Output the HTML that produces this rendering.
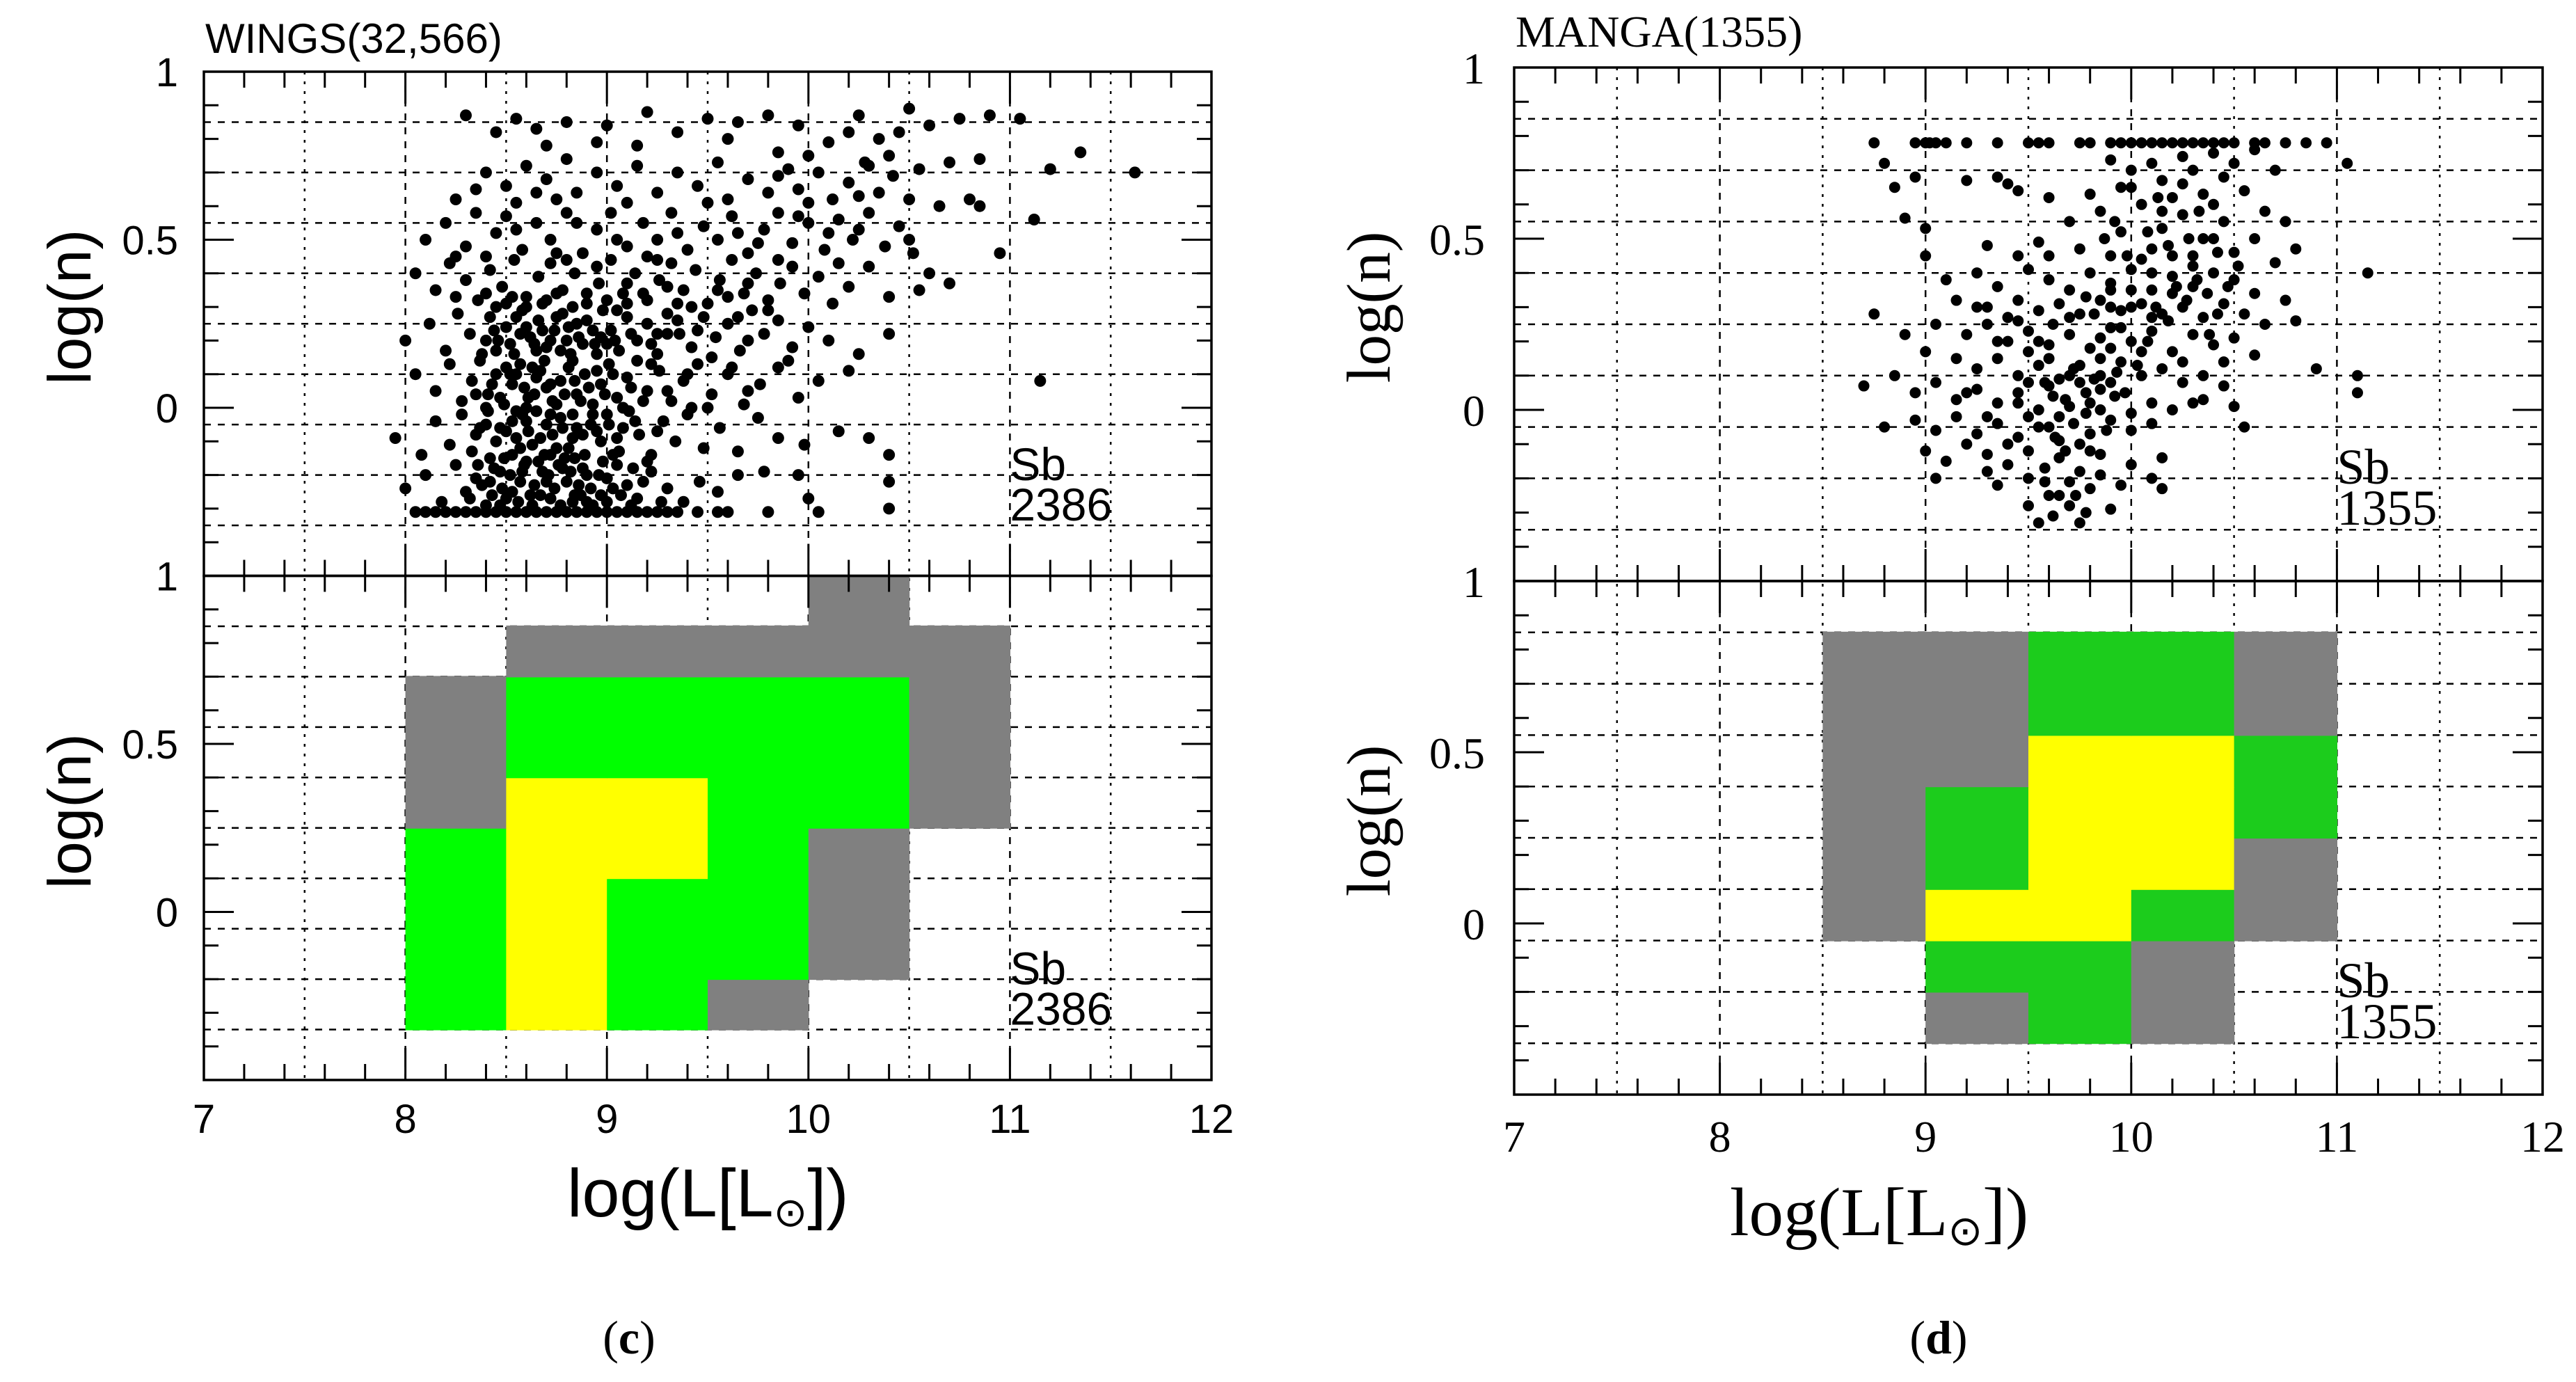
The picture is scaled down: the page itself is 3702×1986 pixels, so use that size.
<!DOCTYPE html>
<html><head><meta charset="utf-8"><title>log(n) vs log(L): WINGS and MANGA, Sb galaxies</title>
<style>
html,body{margin:0;padding:0;background:#fff;}
svg{display:block;}
</style></head>
<body>
<svg id="fig" width="3702" height="1986" viewBox="0 0 3702 1986" xmlns="http://www.w3.org/2000/svg">
<rect x="0" y="0" width="3702" height="1986" fill="#fff"/>
</svg>
<script>
// ---- data ----
const xBinEdges = [8, 8.5, 9, 9.5, 10, 10.5, 11];
const yBinEdges = [-0.35, -0.2, -0.05, 0.1, 0.25, 0.4, 0.55, 0.7, 0.85, 1.0];
const xTickLabels = ["7", "8", "9", "10", "11", "12"];
const yTickLabels = ["0", "0.5", "1"];
// heat levels per row (bottom row first): 0 empty, 1 gray, 2 green, 3 yellow
const wingsGrid = [
 [2,3,2,1,0,0],
 [2,3,2,2,1,0],
 [2,3,2,2,1,0],
 [2,3,3,2,1,0],
 [1,3,3,2,2,1],
 [1,2,2,2,2,1],
 [1,2,2,2,2,1],
 [0,1,1,1,1,1],
 [0,0,0,0,1,0]
];
const mangaGrid = [
 [0,0,1,2,1,0],
 [0,0,2,2,1,0],
 [0,1,3,3,2,1],
 [0,1,2,3,3,1],
 [0,1,2,3,3,2],
 [0,1,1,3,3,2],
 [0,1,1,2,2,1],
 [0,1,1,2,2,1],
 [0,0,0,0,0,0]
];
const wingsPts = [
[8.3,.87],[8.45,.82],[8.55,.86],[8.65,.83],[8.8,.85],[9.0,.84],[9.2,.88],[9.35,.82],[9.5,.86],[9.65,.85],[9.8,.87],[9.95,.84],[10.25,.87],[10.35,.8],[10.5,.89],[10.6,.84],[10.75,.86],[10.9,.87],[11.05,.86],[11.35,.76],[10.45,.82],[9.15,.78],[8.95,.79],[8.7,.78],[9.6,.8],[10.1,.79],[10.2,.82],[10.7,.73],[10.85,.74],[11.2,.71],[11.62,.7],[9.85,.76],[10.0,.75],[10.4,.75],[10.3,.72],
[8.4,.7],[8.5,.66],[8.6,.72],[8.7,.68],[8.8,.74],[8.85,.64],[8.95,.7],[9.05,.66],[9.15,.72],[9.25,.64],[9.35,.7],[9.45,.66],[9.55,.73],[9.6,.62],[9.7,.68],[9.8,.64],[9.9,.71],[9.95,.65],[10.05,.7],[10.12,.62],[10.2,.67],[10.28,.73],[10.35,.64],[10.42,.69],[10.5,.62],[10.55,.71],[10.65,.6],[10.8,.62],[10.85,.6],[8.25,.62],[8.35,.65],[8.55,.61],[8.75,.62],[9.1,.61],[9.5,.61],[9.85,.69],[10.0,.61],[10.25,.63],[8.65,.64],
[8.1,.5],[8.2,.55],[8.3,.48],[8.35,.58],[8.45,.52],[8.5,.57],[8.58,.47],[8.65,.55],[8.72,.5],[8.8,.58],[8.88,.46],[8.95,.53],[9.02,.58],[9.1,.48],[9.18,.55],[9.25,.5],[9.32,.58],[9.4,.47],[9.48,.54],[9.55,.5],[9.62,.57],[9.7,.46],[9.78,.53],[9.85,.58],[9.92,.49],[10.0,.55],[10.08,.47],[10.15,.56],[10.22,.5],[10.3,.58],[10.38,.48],[10.45,.54],[10.52,.46],[10.6,.4],[10.7,.37],[10.95,.46],[11.12,.56],[8.25,.45],[8.55,.53],[8.75,.46],[9.05,.5],[9.35,.52],[9.65,.52],[9.95,.57],[10.25,.53],[10.5,.5],[8.4,.45],[8.85,.55],[9.2,.45],[9.75,.49],[10.1,.52],
[8.05,.4],[8.15,.35],[8.22,.43],[8.3,.38],[8.36,.32],[8.42,.41],[8.48,.36],[8.54,.44],[8.6,.33],[8.66,.39],[8.72,.43],[8.78,.35],[8.84,.4],[8.9,.31],[8.96,.37],[9.02,.44],[9.08,.34],[9.14,.4],[9.2,.32],[9.26,.38],[9.32,.43],[9.38,.35],[9.44,.41],[9.5,.31],[9.56,.38],[9.62,.44],[9.68,.34],[9.74,.4],[9.8,.32],[9.86,.37],[9.92,.42],[9.98,.34],[10.05,.39],[10.12,.31],[10.2,.36],[10.3,.42],[10.4,.33],[10.55,.35],[8.25,.33],[8.5,.31],[8.7,.32],[8.95,.42],[9.1,.37],[9.35,.31],[9.6,.33],[9.85,.44],[10.15,.43],[8.4,.34],[8.8,.44],[9.25,.44],[9.7,.37],
[8.0,.2],[8.12,.25],[8.2,.17],[8.26,.28],[8.32,.22],[8.38,.16],[8.42,.27],[8.46,.2],[8.5,.24],[8.54,.16],[8.58,.29],[8.62,.21],[8.66,.26],[8.7,.18],[8.74,.23],[8.78,.28],[8.82,.16],[8.86,.21],[8.9,.26],[8.94,.19],[8.98,.29],[9.02,.23],[9.06,.17],[9.1,.27],[9.15,.2],[9.2,.25],[9.25,.16],[9.3,.28],[9.36,.22],[9.42,.18],[9.48,.27],[9.54,.21],[9.6,.25],[9.66,.17],[9.72,.29],[9.78,.22],[9.85,.26],[9.92,.18],[10.0,.24],[10.1,.2],[10.25,.16],[10.4,.22],[8.55,.27],[8.65,.17],[8.75,.27],[8.85,.25],[8.95,.16],[9.05,.29],[9.25,.22],[9.45,.23],[9.7,.2],[8.6,.24],[8.8,.2],[8.45,.17],[9.0,.19],[9.35,.26],
[8.05,.1],[8.15,.05],[8.22,.13],[8.28,.02],[8.33,.08],[8.37,.14],[8.41,.04],[8.45,.1],[8.49,.01],[8.53,.07],[8.57,.13],[8.61,.03],[8.65,.09],[8.69,.14],[8.73,.02],[8.77,.08],[8.81,.12],[8.85,.04],[8.89,.1],[8.93,.01],[8.97,.07],[9.01,.13],[9.05,.03],[9.1,.09],[9.15,.14],[9.2,.05],[9.26,.11],[9.32,.02],[9.38,.08],[9.45,.13],[9.52,.04],[9.6,.1],[9.68,.01],[9.76,.07],[9.85,.12],[9.95,.03],[10.05,.08],[10.2,.11],[9.9,.14],[8.55,.1],[8.7,.06],[8.83,.14],[8.6,.0],[8.95,.11],[9.08,.0],[8.5,.12],[8.75,.01],[9.22,.13],[9.42,.0],[8.4,.0],[8.63,.12],[11.15,.08],
[7.95,-.09],[8.08,-.14],[8.15,-.04],[8.22,-.11],[8.28,-.02],[8.33,-.13],[8.37,-.06],[8.41,-.01],[8.45,-.1],[8.49,-.15],[8.53,-.04],[8.57,-.12],[8.61,-.07],[8.65,-.01],[8.69,-.14],[8.73,-.08],[8.77,-.03],[8.81,-.12],[8.85,-.06],[8.89,-.14],[8.93,-.02],[8.97,-.1],[9.01,-.05],[9.06,-.13],[9.11,-.01],[9.16,-.08],[9.22,-.14],[9.28,-.04],[9.34,-.1],[9.4,-.02],[9.48,-.12],[9.56,-.06],[9.65,-.13],[9.75,-.03],[9.85,-.09],[9.98,-.11],[10.15,-.07],[10.3,-.09],[8.55,-.09],[8.7,-.05],[8.83,-.09],[8.63,-.11],[8.47,-.06],[8.79,-.15],[8.95,-.07],[9.05,-.09],[8.58,-.02],[8.75,-.12],[10.4,-.14],
[8.0,-.24],[8.1,-.2],[8.18,-.28],[8.25,-.17],[8.3,-.25],[8.35,-.21],[8.4,-.29],[8.44,-.18],[8.48,-.24],[8.52,-.2],[8.56,-.28],[8.6,-.16],[8.64,-.23],[8.68,-.19],[8.72,-.27],[8.76,-.17],[8.8,-.22],[8.84,-.26],[8.88,-.18],[8.92,-.24],[8.96,-.2],[9.0,-.28],[9.05,-.17],[9.1,-.23],[9.15,-.27],[9.22,-.19],[9.3,-.24],[9.38,-.28],[9.46,-.22],[9.55,-.25],[9.65,-.2],[9.78,-.19],[9.95,-.2],[10.0,-.27],[10.4,-.22],[8.5,-.27],[8.62,-.26],[8.7,-.22],[8.82,-.19],[8.9,-.28],[9.0,-.21],[8.42,-.22],[8.58,-.19],[8.74,-.24],[8.86,-.23],[9.07,-.26],
[8.05,-.31],[8.1,-.31],[8.15,-.31],[8.2,-.31],[8.25,-.31],[8.3,-.31],[8.35,-.31],[8.4,-.31],[8.45,-.31],[8.5,-.31],[8.55,-.31],[8.6,-.31],[8.65,-.31],[8.7,-.31],[8.75,-.31],[8.8,-.31],[8.85,-.31],[8.9,-.31],[8.95,-.31],[9.0,-.31],[9.05,-.31],[9.1,-.31],[9.15,-.31],[9.2,-.31],[9.25,-.31],[9.3,-.31],[9.35,-.31],[9.45,-.31],[9.55,-.31],[9.6,-.31],[9.8,-.31],[10.05,-.31],[10.4,-.3],
[8.32,-.27],[8.38,-.23],[8.43,-.26],[8.47,-.29],[8.53,-.25],[8.57,-.22],[8.63,-.29],[8.67,-.26],[8.71,-.2],[8.77,-.29],[8.83,-.28],[8.87,-.26],[8.93,-.29],[8.97,-.26],[9.03,-.24],[9.12,-.29],[9.18,-.22],[9.27,-.28],
[8.36,-.17],[8.42,-.15],[8.47,-.19],[8.53,-.14],[8.59,-.17],[8.66,-.16],[8.72,-.14],[8.78,-.18],[8.84,-.15],[8.9,-.2],[8.98,-.16],[9.03,-.14],[9.13,-.18],[9.2,-.16],
[8.35,-.08],[8.4,-.05],[8.5,-.07],[8.55,-.01],[8.6,-.04],[8.67,-.09],[8.72,-.02],[8.78,-.06],[8.83,-.02],[8.88,-.08],[8.92,-.05],[9.0,-.02],[9.08,-.06],[9.14,-.04],[9.25,-.07],
[8.35,.04],[8.43,.07],[8.47,.03],[8.52,.1],[8.59,.06],[8.64,.04],[8.67,.11],[8.72,.07],[8.79,.04],[8.84,.08],[8.87,.02],[8.91,.06],[8.99,.04],[9.03,.1],[9.12,.06],[9.18,.02],[9.3,.05],
[8.4,.2],[8.44,.23],[8.52,.19],[8.57,.22],[8.64,.19],[8.68,.23],[8.72,.2],[8.77,.17],[8.81,.24],[8.88,.19],[8.93,.23],[8.97,.21],[9.04,.2],[9.12,.22],[9.22,.19],[9.3,.22],
[8.45,.3],[8.53,.33],[8.6,.3],[8.68,.31],[8.75,.34],[8.83,.3],[8.9,.34],[9.0,.32],[9.1,.31],[9.18,.34],[9.3,.36],[9.42,.3],[9.55,.35],[9.65,.27],[9.8,.29],[9.52,.15],[9.62,.12],[9.4,.1],[9.7,.05],[9.5,0.0]
];
const mangaPts = [
[8.75,.78],[8.95,.78],[9.0,.78],[9.02,.78],[9.05,.78],[9.1,.78],[9.2,.78],[9.35,.78],[9.5,.78],[9.55,.78],[9.6,.78],[9.75,.78],[9.8,.78],[9.9,.78],[9.95,.78],[10.0,.78],[10.05,.78],[10.1,.78],[10.15,.78],[10.2,.78],[10.25,.78],[10.3,.78],[10.35,.78],[10.4,.78],[10.45,.78],[10.5,.78],[10.6,.78],[10.65,.78],[10.75,.78],[10.85,.78],[10.95,.78],
[8.8,.72],[9.35,.68],[10.1,.72],[10.25,.74],[10.4,.75],[10.6,.76],[10.7,.7],[11.05,.72],[8.85,.65],[8.95,.68],[9.2,.67],[9.4,.66],[9.45,.64],[9.9,.73],[10.0,.7],[10.15,.67],[10.3,.7],[10.45,.68],[10.5,.72],[9.8,.63],[9.95,.65],[10.2,.62],[10.35,.63],[10.55,.64],[9.6,.62],[8.9,.56],[9.0,.53],[9.85,.58],[10.05,.6],[10.25,.57],[10.45,.55],[10.65,.58],[10.75,.55],[9.7,.55],[9.95,.52],[10.15,.53],[10.4,.5],[10.6,.5],[10.8,.47],[9.55,.49],[9.3,.48],[9.45,.45],[9.75,.47],[9.9,.45],[10.1,.47],[10.3,.45],[10.5,.46],[10.7,.43],[11.15,.4],
[9.0,.45],[9.1,.38],[9.25,.4],[9.35,.36],[9.5,.41],[9.6,.38],[9.7,.35],[9.8,.4],[9.9,.37],[10.0,.41],[10.1,.35],[10.2,.39],[10.3,.36],[10.4,.4],[10.5,.38],[10.6,.34],[10.75,.32],[9.15,.32],[9.3,.3],[9.45,.32],[9.55,.29],[9.65,.31],[9.75,.28],[9.85,.32],[9.95,.29],[10.05,.31],[10.15,.28],[10.25,.3],[10.35,.27],[10.45,.31],[10.55,.28],[10.65,.25],[10.8,.26],
[8.75,.28],[8.9,.22],[9.05,.25],[9.2,.22],[9.3,.25],[9.4,.2],[9.5,.23],[9.6,.19],[9.7,.22],[9.8,.18],[9.9,.24],[10.0,.2],[10.1,.23],[10.2,.17],[10.3,.22],[10.4,.19],[10.5,.21],[10.6,.16],[10.9,.12],[9.0,.17],[9.15,.15],[9.25,.12],[9.35,.15],[9.45,.1],[9.55,.13],[9.65,.09],[9.75,.13],[9.85,.1],[9.95,.14],[10.05,.1],[10.15,.12],[10.25,.08],[10.35,.1],[10.45,.07],[11.1,.1],
[8.7,.07],[8.85,.1],[8.95,.05],[9.05,.08],[9.15,.03],[9.25,.06],[9.35,.02],[9.45,.05],[9.55,.0],[9.62,.04],[9.7,.01],[9.78,.05],[9.85,.0],[9.92,.04],[10.0,-.01],[10.1,.02],[10.2,.0],[10.35,.03],[10.5,.01],[11.1,.05],
[8.8,-.05],[8.95,-.03],[9.05,-.06],[9.15,-.02],[9.25,-.07],[9.35,-.04],[9.45,-.08],[9.55,-.05],[9.65,-.09],[9.72,-.04],[9.8,-.07],[9.9,-.03],[10.0,-.06],[10.1,-.04],[10.55,-.05],[9.0,-.12],[9.1,-.15],[9.2,-.1],[9.3,-.13],[9.4,-.16],[9.5,-.12],[9.58,-.17],[9.65,-.14],[9.75,-.18],[9.85,-.13],[10.0,-.16],[10.15,-.14],[9.05,-.2],[9.35,-.22],[9.5,-.2],[9.6,-.25],[9.7,-.21],[9.8,-.23],[9.95,-.22],[10.1,-.2],[10.15,-.23],[9.5,-.28],[9.62,-.31],[9.7,-.28],[9.78,-.3],[9.9,-.29],[9.55,-.33],[9.75,-.33],[9.65,-.25],[9.3,-.18],[9.85,-.19],
[9.7,.27],[9.85,.15],[9.6,.15],[9.75,.08],[9.5,.17],[10.0,.3],[10.2,.34],[10.3,.42],[10.1,.27],[9.9,.35],[9.8,.02],[9.65,-.02],[9.85,.06],[9.75,-.1],[9.6,.07],[10.05,.44],[10.4,.6],[10.0,.65],[10.25,.66],[9.85,.21],
[9.9,.3],[10.0,.35],[10.1,.4],[9.95,.24],[10.05,.17],[9.7,.1],[9.6,-.05],[9.8,-.12],[9.9,.08],[10.2,.45],[10.35,.5],[10.15,.58],
[9.45,.02],[9.5,-.02],[9.58,.08],[9.63,-.08],[9.68,.03],[9.72,.12],[9.78,-.01],[9.82,.09],[9.88,-.06],[9.93,.11],[9.97,.05],[10.03,.13],[9.55,.2],[9.62,.25],[9.9,.18],[10.08,.2],[10.12,.3],[10.18,.26],[10.22,.36],[10.27,.32],[10.32,.38],[10.37,.34],[10.42,.28],[10.47,.36],[10.52,.42],[10.28,.5],[10.18,.48],[10.08,.52],[10.13,.62],[10.33,.58],[10.42,.46],[10.38,.22],[9.98,.45],[9.92,.55],[9.87,.5],[9.78,.33],[9.6,.45],[9.4,.27],[9.25,.3],[9.2,.05],[9.3,-.02],[9.4,-.1],[9.5,.08],[9.45,.26],[9.35,.2],[10.25,.14],[10.3,.02],[10.45,.14],[9.68,-.12],[9.58,-.21],[9.73,-.25],[9.82,.28]
];

// ---- layout (not data) ----
const NS = "http://www.w3.org/2000/svg";
const svg = document.getElementById("fig");
function el(tag, attrs, parent) {
  const e = document.createElementNS(NS, tag);
  for (const k in attrs) e.setAttribute(k, attrs[k]);
  (parent || svg).appendChild(e);
  return e;
}
const panels = [
  { key: "wings", x0: 293, x1: 1741, top: 103, mid: 827.5, bot: 1552,
    font: '"Liberation Sans", sans-serif', tickFs: 58, titleFs: 60, axFs: 97,
    green: "#00ff00", grid: wingsGrid, pts: wingsPts, r: 8.5,
    title: "WINGS(32,566)", count: "2386", titleY: 76,
    ylabX: 100, yTickRight: 256, xTickY: 1628, xLabX: 815, xLabY: 1748, caption: "(c)", capX: 904 },
  { key: "manga", x0: 2176, x1: 3654, top: 97, mid: 835, bot: 1573,
    font: '"Liberation Serif", serif', tickFs: 64, titleFs: 64, axFs: 99,
    green: "#1ccc1c", grid: mangaGrid, pts: mangaPts, r: 8,
    title: "MANGA(1355)", count: "1355", titleY: 67,
    ylabX: 1968, yTickRight: 2134, xTickY: 1655, xLabX: 2486, xLabY: 1775, caption: "(d)", capX: 2786 }
];
const colors = p => ["none", "#808080", p.green, "#ffff00"];

panels.forEach(p => {
  const g = el("g", {});
  
  
  const xs = v => p.x0 + (v - 7) * (p.x1 - p.x0) / 5;
  const ysTop = v => p.top + (1 - v) * (p.mid - p.top) / 1.5;
  const ysBot = v => p.mid + (1 - v) * (p.bot - p.mid) / 1.5;
  const col = colors(p);

  // grid lines
  const gl = el("g", { stroke: "#000", "stroke-width": 2.5, fill: "none" }, g);
  
  
  for (let i = 1; i < 10; i++) {
    const x = xs(7 + i * 0.5);
    const dash = (i % 2 === 0) ? "10 10" : "4 10";
    const ln = el("line", { x1: x, x2: x, y1: p.top, y2: p.bot, "stroke-dasharray": dash }, gl);
    
    
  }
  yBinEdges.slice(0, 9).forEach(v => {
    [ysTop, ysBot].forEach(fy => {
      const ln = el("line", { x1: p.x0, x2: p.x1, y1: fy(v), y2: fy(v), "stroke-dasharray": "10 10" }, gl);
      
      
    });
  });

  // heatmap cells (bottom panel), over grid
  const hm = el("g", {}, g);
  
  
  p.grid.forEach((row, ri) => {
    row.forEach((lvl, ci) => {
      if (!lvl) return;
      const xa = xs(xBinEdges[ci]), xb = xs(xBinEdges[ci + 1]);
      const ya = ysBot(yBinEdges[ri + 1]), yb = ysBot(yBinEdges[ri]);
      const r = el("rect", { x: xa, y: ya - 1, width: xb - xa + 0.6, height: yb - ya + 2, fill: col[lvl] }, hm);
      
      
    });
  });

  // scatter
  const sc = el("g", { fill: "#000" }, g);
  
  
  p.pts.forEach(([vx, vy]) => {
    const c = el("circle", { cx: xs(vx), cy: ysTop(vy), r: p.r }, sc);
    
    
  });

  // frames
  [[p.top, p.mid], [p.mid, p.bot]].forEach(([a, b], k) => {
    const fr = el("rect", { x: p.x0, y: a, width: p.x1 - p.x0, height: b - a, fill: "none", stroke: "#000", "stroke-width": 3.5 }, g);
    
    
  });

  // ticks
  const tk = el("g", { stroke: "#000", "stroke-width": 3 }, g);
  
  
  const ux = (p.x1 - p.x0) / 5;
  for (let i = 1; i < 25; i++) {
    const x = p.x0 + i * 0.2 * ux;
    const len = (i % 5 === 0) ? 46 : 23;
    [p.top, p.mid].forEach(yy => { el("line", { x1: x, x2: x, y1: yy, y2: yy + len }, tk); });
    [p.mid, p.bot].forEach(yy => { el("line", { x1: x, x2: x, y1: yy, y2: yy - len }, tk); });
  }
  [ysTop, ysBot].forEach(fy => {
    for (let i = 1; i < 15; i++) {
      const y = fy(1 - i * 0.1);
      const len = (i % 5 === 0) ? 43 : 21;
      el("line", { x1: p.x0, x2: p.x0 + len, y1: y, y2: y }, tk);
      el("line", { x1: p.x1, x2: p.x1 - len, y1: y, y2: y }, tk);
    }
  });

  // text
  const tf = el("g", { "font-family": p.font, fill: "#000" }, g);
  const txt = (s, a, name) => {
    const t = el("text", a, tf);
    t.textContent = s;
    
    
    return t;
  };
  yTickLabels.forEach(s => {
    const v = parseFloat(s);
    [ysTop, ysBot].forEach(fy => {
      txt(s, { x: p.yTickRight, y: fy(v) + p.tickFs * 0.36, "font-size": p.tickFs, "text-anchor": "end" }, 'y-tick-label');
    });
  });
  xTickLabels.forEach(s => {
    txt(s, { x: xs(parseFloat(s)), y: p.xTickY, "font-size": p.tickFs, "text-anchor": "middle" }, 'x-tick-label');
  });
  [[ysTop, 'scatter'], [ysBot, 'heatmap']].forEach(([fy, nm]) => {
    const cy = fy(0.3);
    txt("log(n)", { x: p.ylabX, y: cy, "font-size": p.axFs * 0.9, "text-anchor": "middle",
      transform: `rotate(-90 ${p.ylabX} ${cy})`, "dominant-baseline": "central" }, nm + '-y-axis-title');
    txt("Sb", { x: xs(11.0), y: fy(-0.215), "font-size": p.tickFs + 8 }, nm + '-type-label');
    txt(p.count, { x: xs(11.0), y: fy(-0.335), "font-size": p.tickFs + 8 }, nm + '-count-label');
  });
  const xl = txt("log(L[L", { x: p.xLabX, y: p.xLabY, "font-size": p.axFs }, 'x-axis-title');
  const sub = el("tspan", { "font-size": p.axFs * 0.6, dy: 14 }, xl);
  sub.textContent = "\u2299";
  const cl = el("tspan", { "font-size": p.axFs, dy: -14 }, xl);
  cl.textContent = "])";
  txt(p.title, { x: p.x0 + 2, y: p.titleY, "font-size": p.titleFs }, 'panel-title');
  const cap = el("text", { x: p.capX, y: 1945, "font-family": '"Liberation Serif", serif', "font-size": 68, "text-anchor": "middle" }, g);
  
  
  const c1 = el("tspan", {}, cap); c1.textContent = "(";
  const c2 = el("tspan", { "font-weight": "bold" }, cap); c2.textContent = p.caption.slice(1, 2);
  const c3 = el("tspan", {}, cap); c3.textContent = ")";
});
</script>
</body></html>
